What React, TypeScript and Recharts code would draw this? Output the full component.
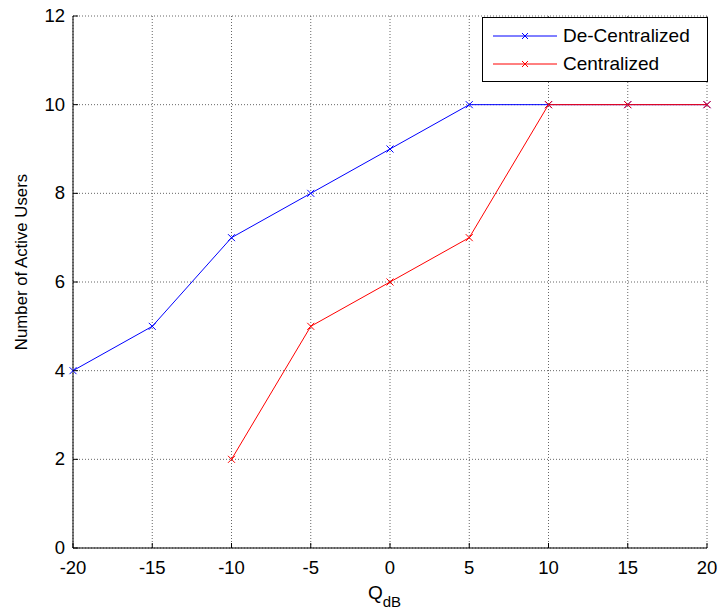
import React from 'react';
import { LineChart, Line, XAxis, YAxis, CartesianGrid, Label } from 'recharts';

const qdb = [-20, -15, -10, -5, 0, 5, 10, 15, 20];
const deCentralized = [4, 5, 7, 8, 9, 10, 10, 10, 10];
const centralized = [null, null, 2, 5, 6, 7, 10, 10, 10];
const xTicks = [-20, -15, -10, -5, 0, 5, 10, 15, 20];
const yTicks = [0, 2, 4, 6, 8, 10, 12];

const data = qdb.map((q, i) => ({ q, dec: deCentralized[i], cen: centralized[i] }));

const FONT = 'Liberation Sans, Arial, sans-serif';
const TICK_FONT = 18.5;
const TICK_LEN = 5;

// small "x" marker like the matlab plot
const Cross = (color: string) => (props: any) => {
  const { cx, cy, value } = props;
  if (value == null || cx == null || cy == null) return <g key={props.key} />;
  const s = 3.5;
  return (
    <g key={props.key}>
      <line x1={cx - s} y1={cy - s} x2={cx + s} y2={cy + s} stroke={color} strokeWidth={1} />
      <line x1={cx - s} y1={cy + s} x2={cx + s} y2={cy - s} stroke={color} strokeWidth={1} />
    </g>
  );
};

// matlab style ticks: short marks inside the box, labels outside
const BottomTick = (props: any) => {
  const { x, y, payload } = props;
  return (
    <g>
      <line x1={x} y1={y} x2={x} y2={y - TICK_LEN} stroke="#000" />
      <text x={x} y={y + 26} textAnchor="middle" fontFamily={FONT} fontSize={TICK_FONT} fill="#000">
        {payload.value}
      </text>
    </g>
  );
};

const LeftTick = (props: any) => {
  const { x, y, payload } = props;
  return (
    <g>
      <line x1={x} y1={y} x2={x + TICK_LEN} y2={y} stroke="#000" />
      <text x={x - 8} y={y + 6} textAnchor="end" fontFamily={FONT} fontSize={TICK_FONT} fill="#000">
        {payload.value}
      </text>
    </g>
  );
};

const TopTick = (props: any) => {
  const { x, y } = props;
  return <line x1={x} y1={y} x2={x} y2={y + TICK_LEN} stroke="#000" />;
};

const RightTick = (props: any) => {
  const { x, y } = props;
  return <line x1={x} y1={y} x2={x - TICK_LEN} y2={y} stroke="#000" />;
};

const series = [
  { name: 'De-Centralized', color: '#0000ff' },
  { name: 'Centralized', color: '#ff0000' },
];

function LegendBox() {
  return (
    <div
      style={{
        position: 'absolute',
        top: 17,
        left: 482,
        border: '1px solid #000',
        background: '#fff',
        width: 226,
        height: 65,
        boxSizing: 'border-box',
        padding: '4px 0 0 10px',
        fontFamily: FONT,
        fontSize: 19,
      }}
    >
      {series.map((s) => (
        <div key={s.name} style={{ display: 'flex', alignItems: 'center', height: 28 }}>
          <svg width={64} height={10} style={{ marginRight: 6 }}>
            <line x1={0} y1={5} x2={64} y2={5} stroke={s.color} strokeWidth={1} />
            <line x1={29} y1={2} x2={35} y2={8} stroke={s.color} />
            <line x1={29} y1={8} x2={35} y2={2} stroke={s.color} />
          </svg>
          <span>{s.name}</span>
        </div>
      ))}
    </div>
  );
}

const XLabel = (props: any) => {
  const vb = props.viewBox;
  const cx = vb.x + vb.width / 2;
  return (
    <text x={cx - 22} y={vb.y + 51} fontFamily={FONT} fontSize={19} fill="#000">
      Q
      <tspan fontSize={15} dy={8}>dB</tspan>
    </text>
  );
};

const YLabel = (props: any) => {
  const vb = props.viewBox;
  const cy = vb.y + vb.height / 2 - 20;
  return (
    <text
      x={21}
      y={cy}
      transform={`rotate(-90 21 ${cy})`}
      textAnchor="middle"
      dominantBaseline="central"
      fontFamily={FONT}
      fontSize={16.8}
      fill="#000"
    >
      Number of Active Users
    </text>
  );
};

export default function App() {
  return (
    <div style={{ position: 'fixed', left: 0, top: 0, background: '#fff', width: 718, height: 612 }}>
      <LineChart
        width={718}
        height={612}
        data={data}
        margin={{ top: 16, right: 11, left: 13, bottom: 0 }}
      >
        <CartesianGrid stroke="#666" strokeDasharray="1 2" />
        <XAxis
          dataKey="q"
          type="number"
          domain={[-20, 20]}
          ticks={xTicks}
          height={64}
          tickSize={0}
          tickMargin={0}
          tickLine={false}
          axisLine={{ stroke: '#000' }}
          tick={<BottomTick />}
          interval={0}
        >
          <Label content={<XLabel />} />
        </XAxis>
        <XAxis
          xAxisId="top"
          orientation="top"
          dataKey="q"
          type="number"
          domain={[-20, 20]}
          ticks={xTicks}
          height={0}
          tickSize={0}
          tickMargin={0}
          tick={<TopTick />}
          tickLine={false}
          axisLine={{ stroke: '#000' }}
          interval={0}
        />
        <YAxis
          type="number"
          domain={[0, 12]}
          ticks={yTicks}
          width={60}
          tickSize={0}
          tickMargin={0}
          tickLine={false}
          axisLine={{ stroke: '#000' }}
          tick={<LeftTick />}
          interval={0}
        >
          <Label content={<YLabel />} />
        </YAxis>
        <YAxis
          yAxisId="right"
          orientation="right"
          domain={[0, 12]}
          ticks={yTicks}
          width={0}
          tickSize={0}
          tickMargin={0}
          tick={<RightTick />}
          tickLine={false}
          axisLine={{ stroke: '#000' }}
          interval={0}
        />
        <Line
          type="linear"
          dataKey="dec"
          stroke="#0000ff"
          strokeWidth={1}
          dot={Cross('#0000ff')}
          activeDot={false}
          isAnimationActive={false}
          connectNulls={false}
        />
        <Line
          type="linear"
          dataKey="cen"
          stroke="#ff0000"
          strokeWidth={1}
          dot={Cross('#ff0000')}
          activeDot={false}
          isAnimationActive={false}
          connectNulls={false}
        />
      </LineChart>
      <LegendBox />
    </div>
  );
}
